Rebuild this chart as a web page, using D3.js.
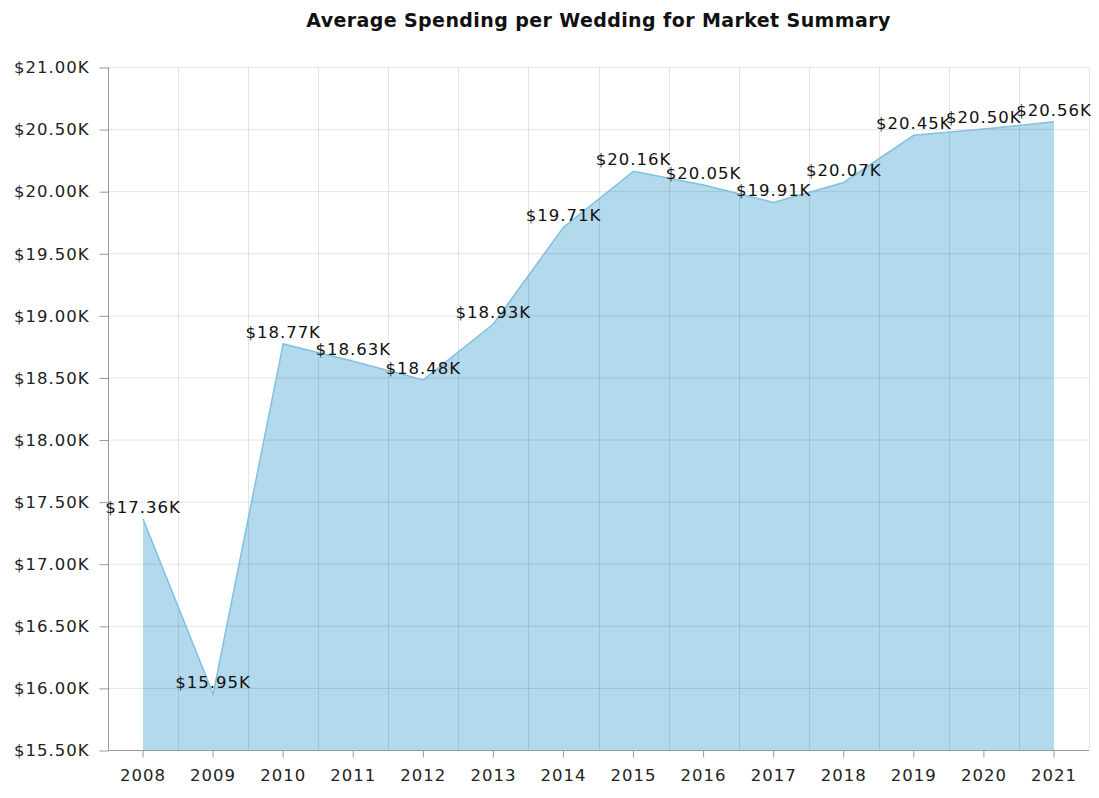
<!DOCTYPE html>
<html lang="en">
<head>
  <meta charset="UTF-8">
  <script src="https://d3js.org/d3.v7.min.js"></script>
  <title>Average Spending per Wedding</title>
  <style>
    body { margin: 0; background: #fff; }
    text { font-family: "DejaVu Sans", Verdana, sans-serif; }
  </style>
</head>
<body>
  <script>
    // chart data, in thousands of dollars
    const years = ["2008","2009","2010","2011","2012","2013","2014","2015","2016","2017","2018","2019","2020","2021"]
    const spending = [17.36, 15.95, 18.77, 18.63, 18.48, 18.93, 19.71, 20.16, 20.05, 19.91, 20.07, 20.45, 20.50, 20.56]
    const yTicks = [15.5, 16, 16.5, 17, 17.5, 18, 18.5, 19, 19.5, 20, 20.5, 21]

    const width = 1099, height = 798
    const padL = 108, padR = 1089, padT = 67, padB = 750

    const svg = d3.select("body").append("svg")
                  .attr("width", width)
                  .attr("height", height)

    /* scales */
    const xScale = d3.scaleBand().domain(years).range([padL, padR]).padding(0)
    const yScale = d3.scaleLinear().domain([15.5, 21]).range([padB, padT])
    const cx = d => xScale(d) + xScale.bandwidth() / 2
    const fmt = v => "$" + v.toFixed(2) + "K"

    /* title */
    svg.append("text")
      .attr("x", (padL + padR) / 2)
      .attr("y", 27)
      .attr("text-anchor", "middle")
      .attr("font-size", 19)
      .attr("letter-spacing", 0.4)
      .attr("font-weight", "bold")
      .attr("fill", "#111")
      .text("Average Spending per Wedding for Market Summary")

    /* area */
    const rows = years.map((y, i) => ({ year: y, value: spending[i] }))
    const area = d3.area().x(d => cx(d.year)).y0(padB).y1(d => yScale(d.value))
    const line = d3.line().x(d => cx(d.year)).y(d => yScale(d.value))

    svg.append("path")
      .datum(rows)
      .attr("d", area)
      .attr("fill", "#b3d9ec")

    /* grid */
    const grid = svg.append("g").attr("stroke", "#000").attr("stroke-opacity", 0.1)
    grid.selectAll("line.h")
      .data(yTicks)
      .enter().append("line")
      .attr("x1", padL).attr("x2", padR)
      .attr("y1", d => yScale(d) + 0.5).attr("y2", d => yScale(d) + 0.5)
    const bounds = years.map(y => xScale(y)).concat([padR])
    grid.selectAll("line.v")
      .data(bounds)
      .enter().append("line")
      .attr("x1", d => Math.round(d) + 0.5).attr("x2", d => Math.round(d) + 0.5)
      .attr("y1", padT).attr("y2", padB)

    svg.append("path")
      .datum(rows)
      .attr("d", line)
      .attr("fill", "none")
      .attr("stroke", "#80c0e2")
      .attr("stroke-width", 1.5)

    /* axes */
    const yAxis = d3.axisLeft(yScale).tickValues(yTicks).tickFormat(fmt).tickSize(9).tickPadding(10)
    const xAxis = d3.axisBottom(xScale).tickSize(7).tickPadding(12)

    const gy = svg.append("g")
      .attr("transform", `translate(${padL + 0.5}, 0.5)`)
      .call(yAxis)
    const gx = svg.append("g")
      .attr("transform", `translate(0, ${padB + 0.5})`)
      .call(xAxis)

    ;[gx, gy].forEach(g => {
      g.select(".domain").attr("stroke", "#999")
      g.selectAll(".tick line").attr("stroke", "#999")
      g.selectAll(".tick text").attr("font-size", 16.5).attr("letter-spacing", 1).attr("fill", "#222")
        .attr("font-family", "DejaVu Sans, Verdana, sans-serif")
    })
    gx.select(".domain").attr("d", `M${padL},0H${padR}`)
    gy.select(".domain").attr("d", `M0,${padT}V${padB}`)

    /* value labels */
    svg.selectAll("text.val")
      .data(rows)
      .enter().append("text")
      .attr("class", "val")
      .attr("x", d => cx(d.year))
      .attr("y", d => yScale(d.value) - 6)
      .attr("text-anchor", "middle")
      .attr("font-size", 16.5)
      .attr("letter-spacing", 1)
      .attr("fill", "#111")
      .text(d => fmt(d.value))
  </script>
</body>
</html>
